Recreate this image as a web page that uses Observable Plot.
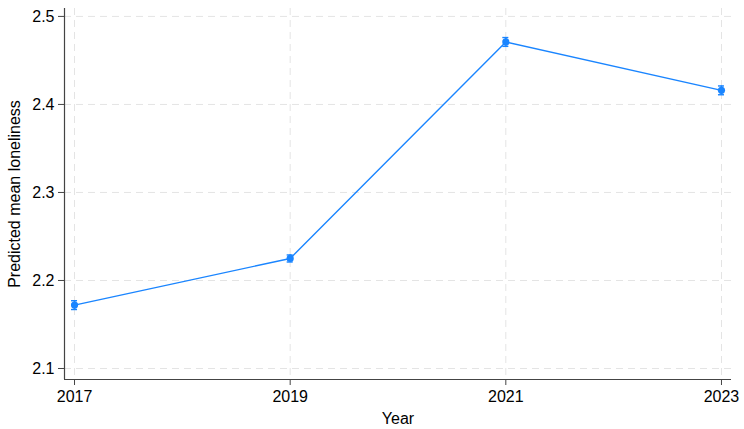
<!DOCTYPE html>
<html><head><meta charset="utf-8">
<script src="https://cdn.jsdelivr.net/npm/d3@7"></script>
<script src="https://cdn.jsdelivr.net/npm/@observablehq/plot@0.6"></script>
<style>body{margin:0;background:#fff} svg text{font-size:16px}</style>
</head><body><div id="chart"></div>
<script>
const years = [2017, 2019, 2021, 2023];
const means = [2.172, 2.225, 2.471, 2.416];
const lower = [2.167, 2.221, 2.466, 2.411];
const upper = [2.177, 2.229, 2.476, 2.421];
const yTicks = [2.1, 2.2, 2.3, 2.4, 2.5];
const xDomain = [2016.907, 2023.093];
const yDomain = [2.0875, 2.509];

const data = years.map((y, i) => ({year: y, mean: means[i], lo: lower[i], hi: upper[i]}));
const blue = "#1a85ff";
const grid = {stroke: "#e4e4e4", strokeOpacity: 1, strokeDasharray: "7,5", strokeWidth: 1};

const chart = Plot.plot({
  width: 744, height: 429,
  marginLeft: 64, marginRight: 13, marginTop: 8, marginBottom: 50,
  style: {fontFamily: "'Liberation Sans', Arial, sans-serif", fontSize: "16px", color: "#000", background: "#fff"},
  x: {domain: xDomain},
  y: {domain: yDomain},
  marks: [
    Plot.gridY(yTicks, grid),
    Plot.gridX(years, grid),
    Plot.axisY(yTicks, {tickSize: 6, tickPadding: 4, tickFormat: d3.format(".1f"), stroke: "#444", fill: "#000", fontSize: 16, label: "Predicted mean loneliness", labelAnchor: "center", labelArrow: "none", labelOffset: 56}),
    Plot.axisX(years, {tickSize: 6, tickPadding: 5, tickFormat: d3.format("d"), stroke: "#444", fill: "#000", fontSize: 16, label: "Year", labelAnchor: "center", labelArrow: "none", labelOffset: 44}),
    Plot.ruleX([xDomain[0]], {stroke: "#444", strokeWidth: 1.2}),
    Plot.ruleY([yDomain[0]], {stroke: "#444", strokeWidth: 1.2}),
    Plot.line(data, {x: "year", y: "mean", stroke: blue, strokeWidth: 1.4}),
    Plot.ruleX(data, {x: "year", y1: "lo", y2: "hi", stroke: blue, strokeWidth: 1.8}),
    Plot.ruleY(data, {y: "lo", x1: d => d.year - 0.028, x2: d => d.year + 0.028, stroke: blue, strokeWidth: 1.4}),
    Plot.ruleY(data, {y: "hi", x1: d => d.year - 0.028, x2: d => d.year + 0.028, stroke: blue, strokeWidth: 1.4}),
    Plot.dot(data, {x: "year", y: "mean", r: 3.6, fill: blue, stroke: "none"})
  ]
});
document.getElementById("chart").appendChild(chart);
</script>
</body></html>
